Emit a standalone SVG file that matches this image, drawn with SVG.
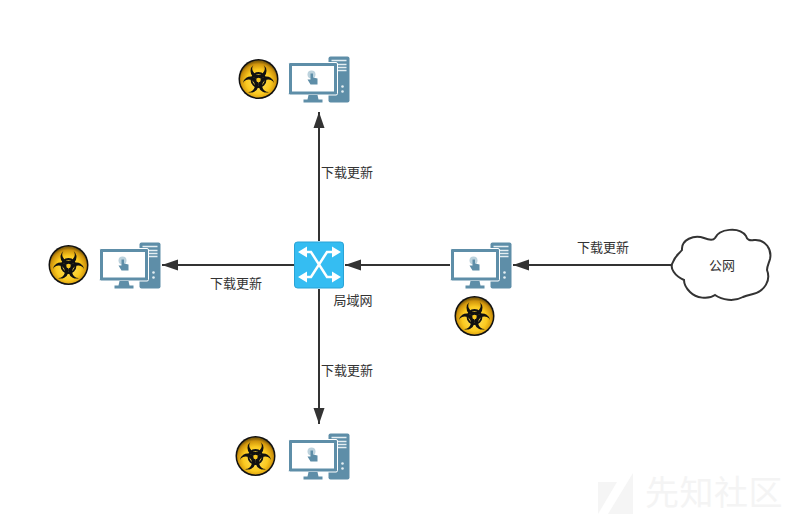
<svg xmlns="http://www.w3.org/2000/svg" width="802" height="519" viewBox="0 0 802 519">
<style>
text{font-family:"Liberation Sans","Noto Sans CJK SC",sans-serif;font-size:13px;fill:#333;text-anchor:middle}
.conn{stroke:#333;stroke-width:2;fill:none;marker-end:url(#ah)}
.wm{font-size:34px;fill:#f4f4f4;text-anchor:start;letter-spacing:.5px}
</style>
<defs>
<marker id="ah" markerUnits="userSpaceOnUse" markerWidth="17" markerHeight="14" refX="16" refY="7" orient="auto"><path d="M0 1.500L16 7L0 12.500Z" fill="#333"/></marker>
<radialGradient id="bio" cx="50%" cy="58%" r="55%"><stop offset="0" stop-color="#ffe66a"/><stop offset=".6" stop-color="#fbc91f"/><stop offset=".88" stop-color="#d0940c"/><stop offset="1" stop-color="#8a640a"/></radialGradient>
<clipPath id="hz"><rect x="-1" y="-1" width="42" height="41"/></clipPath>
<path id="horn" d="M14.840 5.890A8 8 0 1 0 25.160 5.890A6.300 6.300 0 1 1 14.840 5.890Z" fill="#111"/>
<g id="hazard" clip-path="url(#hz)">
<circle cx="20" cy="20" r="20" fill="#111"/>
<circle cx="20" cy="20" r="18.500" fill="url(#bio)"/>
<use href="#horn"/>
<use href="#horn" transform="rotate(120 20 21)"/>
<use href="#horn" transform="rotate(240 20 21)"/>
<circle cx="20" cy="21" r="7" fill="none" stroke="#111" stroke-width="1.800"/>
<circle cx="20" cy="21" r="2.200" fill="#fbc91f"/>
</g>
<g id="pc">
<path d="M40 3Q40 1 42 1H59Q61 1 61 3V45Q61 47 59 47H42Q40 47 40 45Z" fill="#5e8ea8"/>
<path d="M43 5H58M47 9H58M47 12H58M47 15H58" stroke="#e4eef2" stroke-width="1.300"/>
<circle cx="54" cy="31" r="1.300" fill="#e4eef2"/><circle cx="54" cy="36" r="1.300" fill="#e4eef2"/>
<rect x="0" y="7" width="49" height="32.500" rx="1.500" fill="#5e8ea8" stroke="#fff" stroke-width="1"/>
<rect x="3.500" y="10.500" width="42" height="25.500" fill="#fff"/>
<path d="M20 39.500H29L30 44H34V47H15V44H19Z" fill="#5e8ea8"/>
<circle cx="23" cy="19" r="4" fill="#bcd2dd"/>
<path d="M22 18H24.500V22L29 23V29H22L19 24H22Z" fill="#5e8ea8"/>
</g>
</defs>

<g id="watermark">
<path d="M598 514V482L617 482ZM608 514L633 473V514Z" fill="#f5f5f5"/>
<text class="wm" x="645" y="505">先知社区</text>
</g>

<g id="connectors">
<path class="conn" d="M319 241V112"/>
<path class="conn" d="M319 289V424"/>
<path class="conn" d="M294 265H162"/>
<path class="conn" d="M450 265H345"/>
<path class="conn" d="M672 265H513"/>
</g>

<g id="edge-labels">
<text x="347" y="177">下载更新</text>
<text x="347" y="375">下载更新</text>
<text x="236" y="288">下载更新</text>
<text x="603" y="252">下载更新</text>
</g>

<g id="switch">
<rect x="294.500" y="242" width="49" height="46" rx="3" fill="#35bdf2" stroke="#2aa3d6"/>
<path d="M302 252H311L327 277H337M302 277H311L327 252H337" fill="none" stroke="#fff" stroke-width="2.500"/>
<path d="M298 252L307 246.500V257.500ZM298 277L307 271.500V282.500ZM341 252L332 246.500V257.500ZM341 277L332 271.500V282.500Z" fill="#fff"/>
<text x="353" y="305">局域网</text>
</g>

<g id="pc-top"><use href="#hazard" x="238.500" y="59"/><use href="#pc" x="288.500" y="55.500"/></g>
<g id="pc-left"><use href="#hazard" x="48.500" y="245"/><use href="#pc" x="99.500" y="241.500"/></g>
<g id="pc-bottom"><use href="#hazard" x="235.500" y="436"/><use href="#pc" x="288.500" y="432.500"/></g>
<g id="pc-right"><use href="#pc" x="450.500" y="241.500"/><use href="#hazard" x="454.500" y="296"/></g>

<g id="cloud">
<path d="M682 250C681 240 694 234 704 238C709 240 713 241 715 238C719 229 739 226 746 236C747 240 750 241 754 240C766 239 772 250 770 259C769 263 767 266 767 270C771 280 765 291 753 294C749 295 745 296 743 297C734 302 722 300 715 295C708 300 696 298 690 292C686 288 684 285 684 280C675 276 669 268 673 262C675 256 679 254 682 250Z" fill="#fff" stroke="#333" stroke-width="2"/>
<text x="722" y="270">公网</text>
</g>
</svg>
